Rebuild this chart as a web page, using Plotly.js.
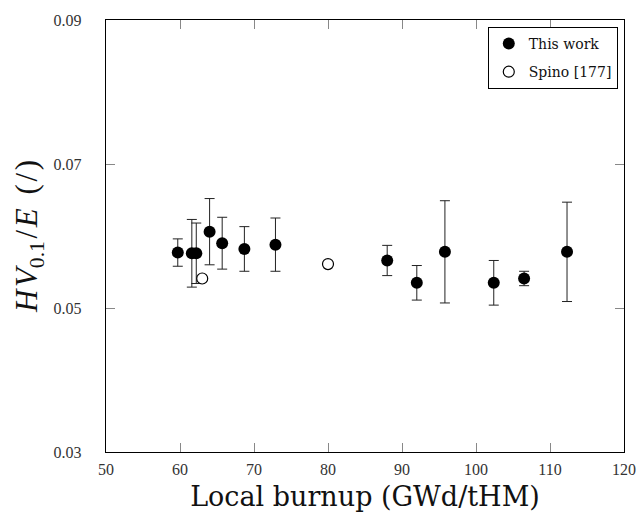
<!DOCTYPE html>
<html>
<head>
<meta charset="utf-8">
<script src="https://cdn.plot.ly/plotly-3.0.1.min.js"></script>
<style>html,body{margin:0;padding:0;background:#fff;}#chart{width:638px;height:518px;}</style>
</head>
<body>
<div id="chart"></div>
<script>
// Data
const burnup = [59.7, 61.6, 62.2, 64.0, 65.7, 68.7, 72.9, 88.0, 92.0, 95.8, 102.4, 106.5, 112.3];
const hvE    = [0.0577, 0.0576, 0.0576, 0.0606, 0.0590, 0.0582, 0.0588, 0.0566, 0.0535, 0.0578, 0.0535, 0.0541, 0.0578];
const hvErr  = [0.0019, 0.0047, 0.0042, 0.0046, 0.0036, 0.0031, 0.0037, 0.0021, 0.0024, 0.0071, 0.0031, 0.0010, 0.0069];
const spinoBurnup = [63.0, 80.0];
const spinoHvE    = [0.0541, 0.0561];
const seriesNames = ["This work", "Spino [177]"];
const xTicks = [50, 60, 70, 80, 90, 100, 110, 120];
const yTicks = [0.03, 0.05, 0.07, 0.09];
const yTickText = ["0.03", "0.05", "0.07", "0.09"];

const traces = [
  {
    x: burnup, y: hvE, type: "scatter", mode: "markers", name: seriesNames[0],
    legendgroup: "a",
    marker: {color: "#000", size: 12, symbol: "circle"},
    error_y: {type: "data", array: hvErr, visible: true, color: "#222", thickness: 1, width: 5}
  },
  {
    x: spinoBurnup, y: spinoHvE, type: "scatter", mode: "markers", name: seriesNames[1],
    legendgroup: "b",
    marker: {color: "#fff", size: 11, symbol: "circle", line: {color: "#000", width: 1.2}}
  }
];

const axisCommon = {
  showgrid: false, zeroline: false, showline: true, linecolor: "#000", linewidth: 1.3,
  mirror: "ticks", ticks: "inside", ticklen: 9, tickcolor: "#888", tickwidth: 1,
  tickfont: {family: "Liberation Serif, serif", size: 16, color: "#333"}
};

const layout = {
  width: 638, height: 518,
  margin: {l: 106, r: 14, t: 20, b: 66},
  paper_bgcolor: "#fff", plot_bgcolor: "#fff",
  showlegend: true,
  xaxis: Object.assign({}, axisCommon, {
    range: [50, 120], tickvals: xTicks, ticktext: xTicks.map(String),
    ticklabelstandoff: 2,
    title: {text: "Local burnup (GWd/tHM)", font: {family: "DejaVu Serif, serif", size: 27, color: "#111"}, standoff: 10}
  }),
  yaxis: Object.assign({}, axisCommon, {
    range: [0.03, 0.09], tickvals: yTicks, ticktext: yTickText,
    ticklabelstandoff: 20,
    title: {text: "<i>H&#8202;V</i><sub>0.1</sub>&#8202;/&#8202;<i>E</i>&#8201; (&#8202;/&#8202;)", font: {family: "Liberation Serif, serif", size: 31, color: "#111"}, standoff: 6}
  }),
  legend: {
    x: 0.988, xanchor: "right", y: 0.984, yanchor: "top",
    bgcolor: "#fff", bordercolor: "#000", borderwidth: 1,
    font: {family: "DejaVu Serif, serif", size: 14, color: "#111"},
    tracegroupgap: 7
  }
};

Plotly.newPlot("chart", traces, layout, {displayModeBar: false, staticPlot: true});
</script>
</body>
</html>
